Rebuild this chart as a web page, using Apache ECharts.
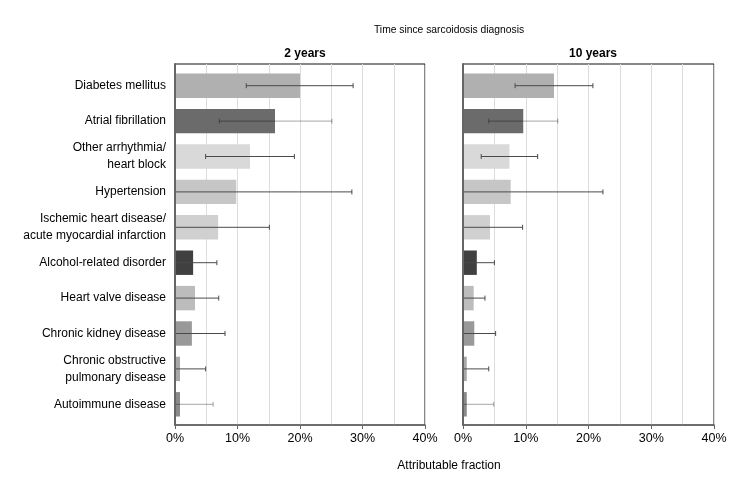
<!DOCTYPE html>
<html>
<head>
<meta charset="utf-8">
<script src="https://cdn.jsdelivr.net/npm/echarts@6/dist/echarts.min.js"></script>
<style>
html,body{margin:0;padding:0;background:#fff;}
#chart{width:738px;height:492px;}
</style>
</head>
<body>
<div id="chart"></div>
<script>
// ---- data (percent) ----
var categories = [
  'Diabetes mellitus',
  'Atrial fibrillation',
  'Other arrhythmia/\nheart block',
  'Hypertension',
  'Ischemic heart disease/\nacute myocardial infarction',
  'Alcohol-related disorder',
  'Heart valve disease',
  'Chronic kidney disease',
  'Chronic obstructive\npulmonary disease',
  'Autoimmune disease'
];
var panelTitles = ['2 years', '10 years'];
var fraction2y  = [20.0, 16.0, 12.0, 9.8, 6.9, 2.9, 3.2, 2.7, 0.8, 0.8];
var lower2y     = [11.4, 7.1, 4.9, 0, 0, 0, 0, 0, 0, 0];
var upper2y     = [28.5, 25.1, 19.1, 28.3, 15.1, 6.7, 7.0, 8.0, 4.9, 6.1];
var fraction10y = [14.5, 9.6, 7.4, 7.6, 4.3, 2.2, 1.7, 1.8, 0.6, 0.6];
var lower10y    = [8.3, 4.1, 2.9, 0, 0, 0, 0, 0, 0, 0];
var upper10y    = [20.7, 15.1, 11.9, 22.3, 9.5, 5.0, 3.5, 5.2, 4.1, 4.9];
var xTicks = [0, 10, 20, 30, 40];

// ---- styles ----
var barColors = ['#b0b0b0', '#6b6b6b', '#d9d9d9', '#c6c6c6', '#d0d0d0',
                 '#404040', '#bcbcbc', '#999999', '#a8a8a8', '#8a8a8a'];
var whiskerColors = ['#4a4a4a', 'rgba(0,0,0,0.35)', '#4a4a4a', '#4a4a4a', '#4a4a4a',
                     '#4a4a4a', '#4a4a4a', '#4a4a4a', '#4a4a4a', 'rgba(0,0,0,0.35)'];
var FONT = 'Liberation Sans, Arial, Helvetica, sans-serif';

var chart = echarts.init(document.getElementById('chart'), null, {renderer: 'canvas'});

var panels = [
  {frameLeft: 175, frameWidth: 250, val: fraction2y, lo: lower2y, hi: upper2y, labels: true},
  {frameLeft: 463, frameWidth: 251, val: fraction10y, lo: lower10y, hi: upper10y, labels: false}
];

var grids = [], xAxes = [], yAxes = [], series = [];
panels.forEach(function (p, k) {
  grids.push({left: p.frameLeft, width: p.frameWidth, top: 64, height: 361,
              show: true, borderColor: '#111', borderWidth: 1, backgroundColor: 'transparent'});
  grids.push({left: p.frameLeft, width: p.frameWidth, top: 68, height: 354});
  xAxes.push({
    type: 'value', gridIndex: k * 2, min: xTicks[0], max: xTicks[xTicks.length - 1], interval: 10, z: 0,
    axisLine: {show: true, onZero: false, lineStyle: {color: '#666', width: 1.5}},
    axisTick: {show: true, length: 4, lineStyle: {color: '#666', width: 1}},
    axisLabel: {color: '#000', fontSize: 12.5, fontFamily: FONT, margin: 7,
                formatter: function (v) { return v + '%'; }},
    splitLine: {show: true, lineStyle: {color: '#dcdcdc', width: 1}},
    minorTick: {show: false, splitNumber: 2},
    minorSplitLine: {show: true, lineStyle: {color: '#dcdcdc', width: 1}}
  });
  yAxes.push({
    type: 'value', gridIndex: k * 2, min: 0, max: 1, z: 10,
    axisLine: {show: true, lineStyle: {color: '#666', width: 2}},
    axisTick: {show: false}, axisLabel: {show: false}, splitLine: {show: false}
  });
  xAxes.push({type: 'value', gridIndex: k * 2 + 1, min: 0, max: 40, show: false, splitLine: {show: false}});
  yAxes.push({
    type: 'category', gridIndex: k * 2 + 1, data: categories, inverse: true,
    axisLine: {show: false}, axisTick: {show: false}, splitLine: {show: false},
    axisLabel: {show: p.labels, color: '#000', fontSize: 12, fontFamily: FONT,
                margin: 9, lineHeight: 17}
  });
  series.push({
    type: 'bar', xAxisIndex: k * 2 + 1, yAxisIndex: k * 2 + 1, z: 2,
    barCategoryGap: '31%',
    data: p.val.map(function (v, i) { return {value: v, itemStyle: {color: barColors[i]}}; }),
    silent: true
  });
  series.push({
    type: 'custom', xAxisIndex: k * 2 + 1, yAxisIndex: k * 2 + 1, z: 3, silent: true,
    data: p.lo.map(function (lo, i) { return [lo, p.hi[i], i]; }),
    encode: {x: [0, 1], y: 2},
    renderItem: function (params, api) {
      var idx = api.value(2);
      var a = api.coord([api.value(0), idx]);
      var b = api.coord([api.value(1), idx]);
      var col = whiskerColors[idx];
      var h = 2.5;
      var st = {stroke: col, lineWidth: 1};
      return {type: 'group', children: [
        {type: 'line', shape: {x1: a[0], y1: a[1], x2: b[0], y2: b[1]}, style: st},
        {type: 'line', shape: {x1: a[0], y1: a[1] - h, x2: a[0], y2: a[1] + h}, style: st},
        {type: 'line', shape: {x1: b[0], y1: b[1] - h, x2: b[0], y2: b[1] + h}, style: st}
      ]};
    }
  });
});

var option = {
  animation: false,
  backgroundColor: '#fff',
  title: [
    {text: 'Time since sarcoidosis diagnosis', left: 444, top: 20, textAlign: 'center',
     textStyle: {fontSize: 10.3, fontWeight: 'normal', color: '#000', fontFamily: FONT}},
    {text: panelTitles[0], left: 300, top: 43, textAlign: 'center',
     textStyle: {fontSize: 12, fontWeight: 'bold', color: '#000', fontFamily: FONT}},
    {text: panelTitles[1], left: 588, top: 43, textAlign: 'center',
     textStyle: {fontSize: 12, fontWeight: 'bold', color: '#000', fontFamily: FONT}},
    {text: 'Attributable fraction', left: 444, top: 455, textAlign: 'center',
     textStyle: {fontSize: 12, fontWeight: 'normal', color: '#000', fontFamily: FONT}}
  ],
  grid: grids,
  xAxis: xAxes,
  yAxis: yAxes,
  series: series
};
chart.setOption(option);
</script>
</body>
</html>
